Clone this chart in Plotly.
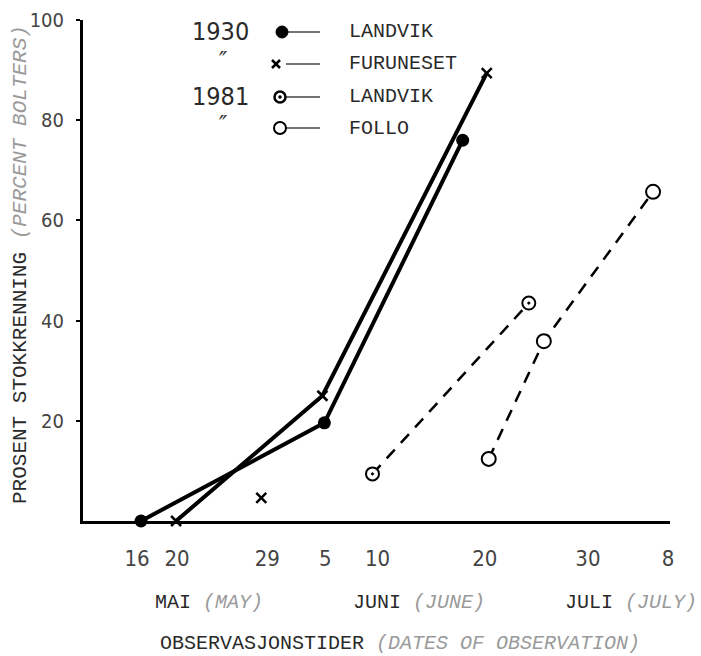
import plotly.graph_objects as go

# ---------------- data (x in "chart days": 16 = 16 May, 34.8 = 5 June, 69 = 8 July) -------------
tick_pos = [16, 20, 29, 34.8, 40, 50.7, 61, 69]
tick_text = ["16", "20", "29", "5", "10", "20", "30", "8"]
y_ticks = [20, 40, 60, 80, 100]

landvik_1930_x = [16.4, 34.7, 48.5]
landvik_1930_y = [0, 19.6, 76.0]

furuneset_1930_x = [19.9, 34.5, 50.9]
furuneset_1930_y = [0, 25.0, 89.4]

furuneset_extra_x = [28.4]
furuneset_extra_y = [4.6]

landvik_1981_x = [39.5, 55.1]
landvik_1981_y = [9.4, 43.5]

follo_1981_x = [51.1, 56.6, 67.5]
follo_1981_y = [12.4, 35.9, 65.7]

# ---------------- layout geometry ----------------
W, H = 701, 656
L, R, T, B = 83, 31, 20, 135
PW, PH = W - L - R, H - T - B

def px(x):
    return (x - L) / PW

def py(y):
    return (H - B - y) / PH

MONO = "Liberation Mono, DejaVu Sans Mono, monospace"
NARROW = "Liberation Sans Narrow, DejaVu Sans Condensed, Liberation Sans, sans-serif"
INK = "#2a2a2a"
GREY = "#9a9a9a"

fig = go.Figure()

fig.add_trace(go.Scatter(
    x=landvik_1930_x, y=landvik_1930_y, mode="lines+markers", name="1930 LANDVIK",
    line=dict(color="black", width=4),
    marker=dict(symbol="circle", size=13, color="black"),
    cliponaxis=False))

fig.add_trace(go.Scatter(
    x=furuneset_1930_x, y=furuneset_1930_y, mode="lines+markers", name="1930 FURUNESET",
    line=dict(color="black", width=4),
    marker=dict(symbol="x-thin", size=10, color="black", line=dict(color="black", width=2.5)),
    cliponaxis=False))

fig.add_trace(go.Scatter(
    x=furuneset_extra_x, y=furuneset_extra_y, mode="markers", name="1930 FURUNESET",
    showlegend=False,
    marker=dict(symbol="x-thin", size=10, color="black", line=dict(color="black", width=2.5)),
    cliponaxis=False))

fig.add_trace(go.Scatter(
    x=landvik_1981_x, y=landvik_1981_y, mode="lines+markers", name="1981 LANDVIK",
    line=dict(color="black", width=2.5, dash="12px,9px"),
    marker=dict(symbol="circle-dot", size=13, color="white", line=dict(color="black", width=2)),
    cliponaxis=False))

fig.add_trace(go.Scatter(
    x=follo_1981_x, y=follo_1981_y, mode="lines+markers", name="1981 FOLLO",
    line=dict(color="black", width=2.5, dash="12px,9px"),
    marker=dict(symbol="circle", size=14, color="white", line=dict(color="black", width=2)),
    cliponaxis=False))

shapes = []
annotations = []

def note(x, y, text, size=20, family=MONO, xanchor="left", color=INK, angle=0):
    annotations.append(dict(x=px(x), y=py(y), xref="paper", yref="paper", text=text,
                            xanchor=xanchor, yanchor="middle", textangle=angle,
                            showarrow=False, font=dict(family=family, size=size, color=color)))

# ---------------- hand-made legend ----------------
rows = [
    (32, "1930", "fill", "LANDVIK"),
    (64, "″", "x", "FURUNESET"),
    (97, "1981", "dot", "LANDVIK"),
    (128, "″", "open", "FOLLO"),
]
for yy, yr, kind, name in rows:
    if yr == "″":
        note(223, yy - 3, "<i>″</i>", size=24, family=NARROW, xanchor="center")
    else:
        note(220, yy, yr, size=25, family=NARROW, xanchor="center")
    mx = 280
    shapes.append(dict(type="line", xref="paper", yref="paper", x0=px(mx + 6), x1=px(320),
                       y0=py(yy), y1=py(yy), line=dict(color="#444", width=1.5)))
    if kind == "fill":
        shapes.append(dict(type="circle", xref="paper", yref="paper", xsizemode="pixel", ysizemode="pixel",
                           xanchor=px(mx + 2), yanchor=py(yy), x0=-6, x1=6, y0=-6, y1=6,
                           fillcolor="black", line=dict(color="black", width=1)))
    elif kind == "x":
        for s in (1, -1):
            shapes.append(dict(type="line", xref="paper", yref="paper", xsizemode="pixel", ysizemode="pixel",
                               xanchor=px(mx - 4), yanchor=py(yy), x0=-4, x1=4, y0=-4 * s, y1=4 * s,
                               line=dict(color="black", width=2.5)))
    elif kind == "dot":
        shapes.append(dict(type="circle", xref="paper", yref="paper", xsizemode="pixel", ysizemode="pixel",
                           xanchor=px(mx), yanchor=py(yy), x0=-5.5, x1=5.5, y0=-5.5, y1=5.5,
                           fillcolor="white", line=dict(color="black", width=2.5)))
        shapes.append(dict(type="circle", xref="paper", yref="paper", xsizemode="pixel", ysizemode="pixel",
                           xanchor=px(mx), yanchor=py(yy), x0=-1.8, x1=1.8, y0=-1.8, y1=1.8,
                           fillcolor="black", line=dict(color="black", width=0)))
    else:
        shapes.append(dict(type="circle", xref="paper", yref="paper", xsizemode="pixel", ysizemode="pixel",
                           xanchor=px(mx), yanchor=py(yy), x0=-6, x1=6, y0=-6, y1=6,
                           fillcolor="white", line=dict(color="black", width=2)))
    note(347, yy, name)

# ---------------- axis titles / month labels ----------------
note(20, 265, "PROSENT STOKKRENNING <i><span style='color:%s'>(PERCENT BOLTERS)</span></i>" % GREY,
     size=21, xanchor="center", angle=-90)

for x0, main, eng in [(153, "MAI", "(MAY)"), (351, "JUNI", "(JUNE)"), (563, "JULI", "(JULY)")]:
    note(x0, 602, "%s <i><span style='color:%s'>%s</span></i>" % (main, GREY, eng))

note(158, 643, "OBSERVASJONSTIDER <i><span style='color:%s'>(DATES OF OBSERVATION)</span></i>" % GREY)

fig.update_layout(
    width=W, height=H,
    margin=dict(l=L, r=R, t=T, b=B, autoexpand=False),
    paper_bgcolor="white", plot_bgcolor="white",
    showlegend=False,
    shapes=shapes, annotations=annotations,
    xaxis=dict(range=[10.61, 69.19], tickvals=tick_pos, ticktext=tick_text, ticks="",
               showline=True, linecolor="black", linewidth=3, showgrid=False, zeroline=False,
               ticklabelstandoff=16, tickfont=dict(family=NARROW, size=22, color="#444")),
    yaxis=dict(range=[0, 100], tickvals=y_ticks, ticks="outside", ticklen=4, tickwidth=2,
               tickcolor="black", showline=True, linecolor="black", linewidth=3,
               showgrid=False, zeroline=False, ticklabelstandoff=8,
               tickfont=dict(family=NARROW, size=20, color="#444")),
)

fig.write_html("out.html", config={"displayModeBar": False},
               post_script="document.body.style.margin='0';document.body.style.overflow='hidden';")
